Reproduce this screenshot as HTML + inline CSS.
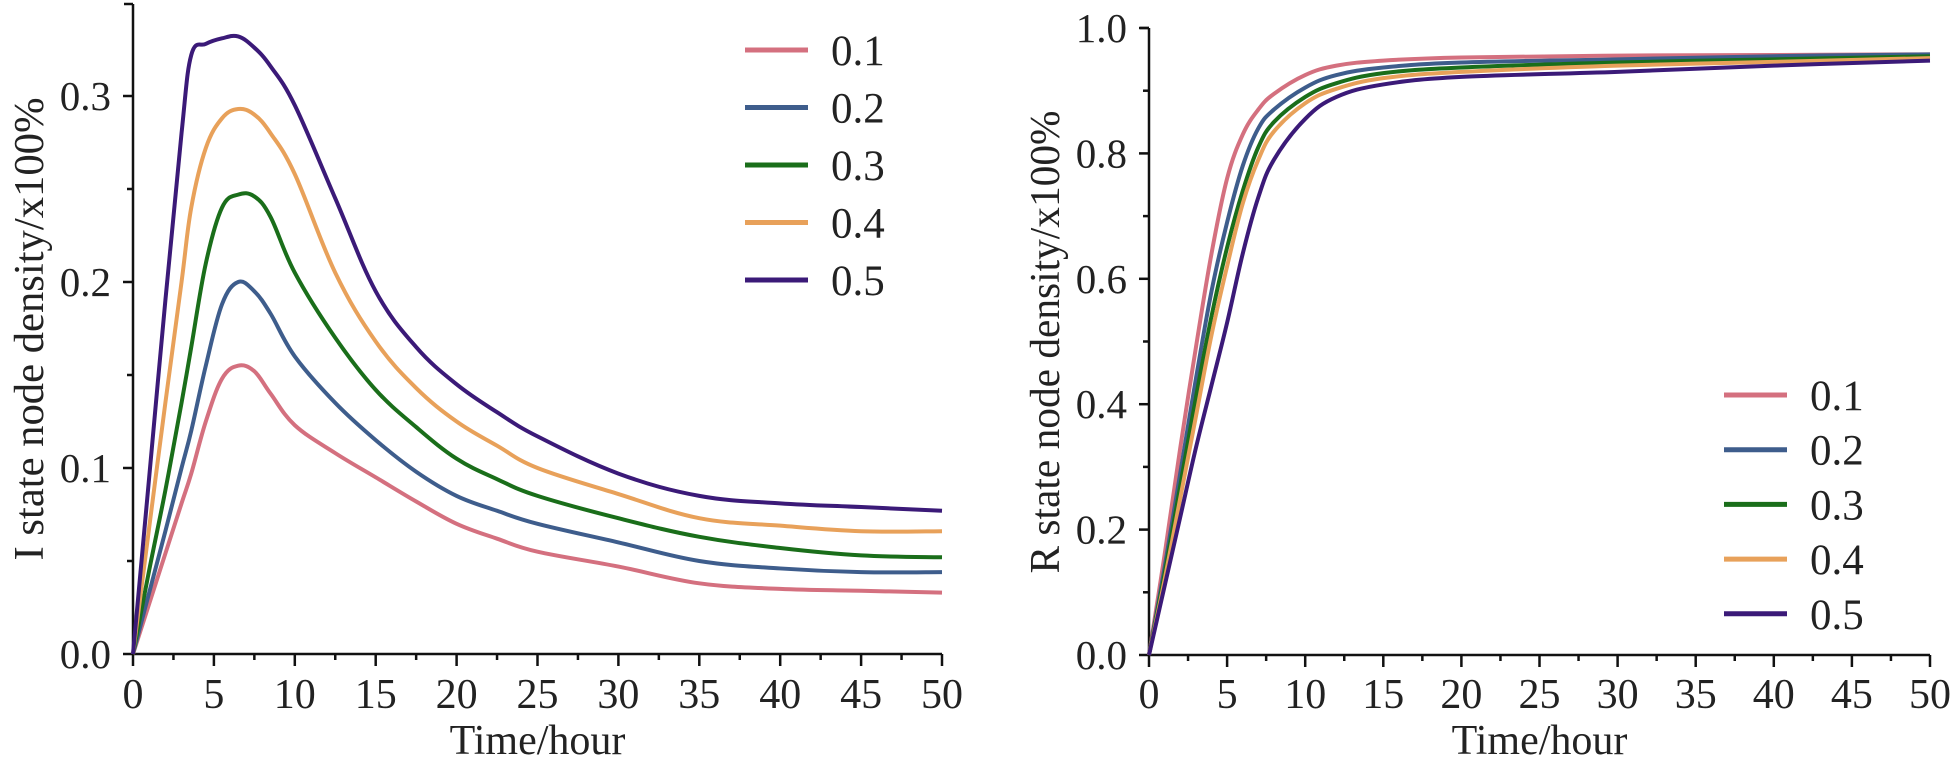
<!DOCTYPE html>
<html><head><meta charset="utf-8"><style>
html,body{margin:0;padding:0;background:#fff;}
svg{display:block;font-family:"Liberation Serif",serif;}
</style></head><body>
<svg id="fig" width="1954" height="768" viewBox="0 0 1954 768"></svg>
<script>
const times=[0,1,2,3,3.6,4.5,5.5,6.5,7.5,8.5,10,12.5,15,17.5,20,22.5,25,30,35,40,45,50];
const iS1=[0,0.027,0.054,0.081,0.097,0.125,0.148,0.155,0.152,0.14,0.123,0.108,0.095,0.082,0.07,0.062,0.055,0.047,0.038,0.035,0.034,0.033];
const iS2=[0,0.033,0.066,0.1,0.12,0.155,0.188,0.2,0.195,0.183,0.16,0.135,0.115,0.098,0.085,0.077,0.07,0.06,0.05,0.046,0.044,0.044];
const iS3=[0,0.045,0.088,0.135,0.165,0.21,0.24,0.247,0.246,0.235,0.205,0.17,0.142,0.122,0.105,0.094,0.085,0.073,0.063,0.057,0.053,0.052];
const iS4=[0,0.068,0.135,0.2,0.24,0.272,0.288,0.293,0.29,0.28,0.258,0.205,0.168,0.143,0.125,0.112,0.1,0.086,0.073,0.069,0.066,0.066];
const iS5=[0,0.095,0.19,0.28,0.322,0.328,0.331,0.332,0.326,0.316,0.295,0.245,0.195,0.165,0.145,0.13,0.117,0.097,0.085,0.081,0.079,0.077];
const rTimes=[0,1,2,3,4,5,6,7,8,10,12,15,20,30,40,50];
const rS1=[0,0.16,0.33,0.49,0.64,0.76,0.83,0.87,0.895,0.925,0.94,0.948,0.953,0.956,0.957,0.958];
const rS2=[0,0.14,0.29,0.44,0.58,0.69,0.78,0.84,0.87,0.905,0.925,0.937,0.945,0.95,0.955,0.958];
const rS3=[0,0.13,0.27,0.41,0.54,0.65,0.74,0.81,0.85,0.89,0.912,0.928,0.937,0.945,0.95,0.955];
const rS4=[0,0.12,0.25,0.38,0.51,0.62,0.72,0.79,0.835,0.88,0.903,0.92,0.93,0.94,0.946,0.952];
const rS5=[0,0.11,0.22,0.33,0.43,0.53,0.64,0.73,0.79,0.855,0.89,0.91,0.922,0.93,0.94,0.948];
const seriesLabels=["0.1","0.2","0.3","0.4","0.5"];
const xTicks=[0,5,10,15,20,25,30,35,40,45,50];
const leftYTicks=["0.0","0.1","0.2","0.3"];
const rightYTicks=["0.0","0.2","0.4","0.6","0.8","1.0"];
const colors=["#d4707f","#3e5d8c","#1a6e1a","#e8a15a","#3b1a78"];

const NS="http://www.w3.org/2000/svg";
const svg=document.getElementById('fig');
function mk(tag,attrs,parent){const e=document.createElementNS(NS,tag);for(const k in attrs)e.setAttribute(k,attrs[k]);(parent||svg).appendChild(e);return e;}
function smooth(pts){let d="M"+pts[0][0]+","+pts[0][1];for(let i=0;i<pts.length-1;i++){const p0=pts[Math.max(0,i-1)],p1=pts[i],p2=pts[i+1],p3=pts[Math.min(pts.length-1,i+2)];const t=0.18;d+=" C"+(p1[0]+(p2[0]-p0[0])*t)+","+(p1[1]+(p2[1]-p0[1])*t)+" "+(p2[0]-(p3[0]-p1[0])*t)+","+(p2[1]-(p3[1]-p1[1])*t)+" "+p2[0]+","+p2[1];}return d;}

function drawPanel(cfg){
  const g=mk('g',{});
  
  
  const xs=v=>cfg.x0+(v-0)/(50)*(cfg.x1-cfg.x0);
  const ys=v=>cfg.y0-v/cfg.yMax*(cfg.y0-cfg.yTopVal);
  const ax=mk('path',{d:`M${cfg.x0},${cfg.top} L${cfg.x0},${cfg.y0} L${cfg.x1},${cfg.y0}`,fill:'none',stroke:'#111','stroke-width':2.5},g);
  
  
  mk('line',{x1:cfg.x0-9,y1:cfg.top,x2:cfg.x0,y2:cfg.top,stroke:'#111','stroke-width':2.5},g);
  for(let v=0;v<=50;v+=2.5){const major=v%5===0;mk('line',{x1:xs(v),y1:cfg.y0,x2:xs(v),y2:cfg.y0+(major?12:6),stroke:'#111','stroke-width':2.5},g);}
  xTicks.forEach(v=>{const t=mk('text',{x:xs(v),y:708,'text-anchor':'middle','font-size':42,fill:'#222'},g);t.textContent=v;
    
    });
  for(let v=0;v<=cfg.yMax*(cfg.yTicks.length-1)+1e-9;v+=cfg.yMax/2){const major=Math.abs((v/cfg.yMax)-Math.round(v/cfg.yMax))<1e-6;mk('line',{x1:cfg.x0-(major?10:6),y1:ys(v),x2:cfg.x0,y2:ys(v),stroke:'#111','stroke-width':2.5},g);}
  cfg.yTicks.forEach((s,i)=>{const t=mk('text',{x:cfg.x0-22,y:ys(i*cfg.yMax)+14,'text-anchor':'end','font-size':41,fill:'#222'},g);t.textContent=s;
    
    });
  const xt=mk('text',{x:(cfg.x0+cfg.x1)/2,y:754,'text-anchor':'middle','font-size':42,fill:'#222'},g);xt.textContent='Time/hour';
  
  
  const yt=mk('text',{x:0,y:0,'text-anchor':'middle','font-size':42,fill:'#222',transform:`translate(${cfg.ytX},${cfg.ytY}) rotate(-90)`,textLength:463,lengthAdjust:'spacingAndGlyphs'},g);yt.textContent=cfg.ytitle;
  
  
  cfg.series.forEach((arr,i)=>{const pts=arr.map((v,j)=>[xs(cfg.times[j]),ys(v)]);
    const p=mk('path',{d:smooth(pts),fill:'none',stroke:colors[i],'stroke-width':4,'stroke-linejoin':'round'},g);
    
    });
  seriesLabels.forEach((s,i)=>{const y=cfg.legY+i*cfg.legDy;
    const l=mk('line',{x1:cfg.legX,y1:y,x2:cfg.legX+63,y2:y,stroke:colors[i],'stroke-width':5},g);
    
    
    const t=mk('text',{x:cfg.legX+86,y:y+15,'font-size':43,fill:'#222'},g);t.textContent=s;
    
    });
}
drawPanel({name:'i-state-chart',x0:133,x1:942,y0:654,top:4,yMax:0.1,yTopVal:468,yTicks:leftYTicks,times:times,series:[iS1,iS2,iS3,iS4,iS5],ytitle:'I state node density/x100%',ytX:43,ytY:329,legX:745,legY:50,legDy:57.5});
drawPanel({name:'r-state-chart',x0:1149,x1:1930,y0:655,top:28,yMax:0.2,yTopVal:529.6,yTicks:rightYTicks,times:rTimes,series:[rS1,rS2,rS3,rS4,rS5],ytitle:'R state node density/x100%',ytX:1059,ytY:342,legX:1724,legY:395,legDy:54.7});
</script>
</body></html>
